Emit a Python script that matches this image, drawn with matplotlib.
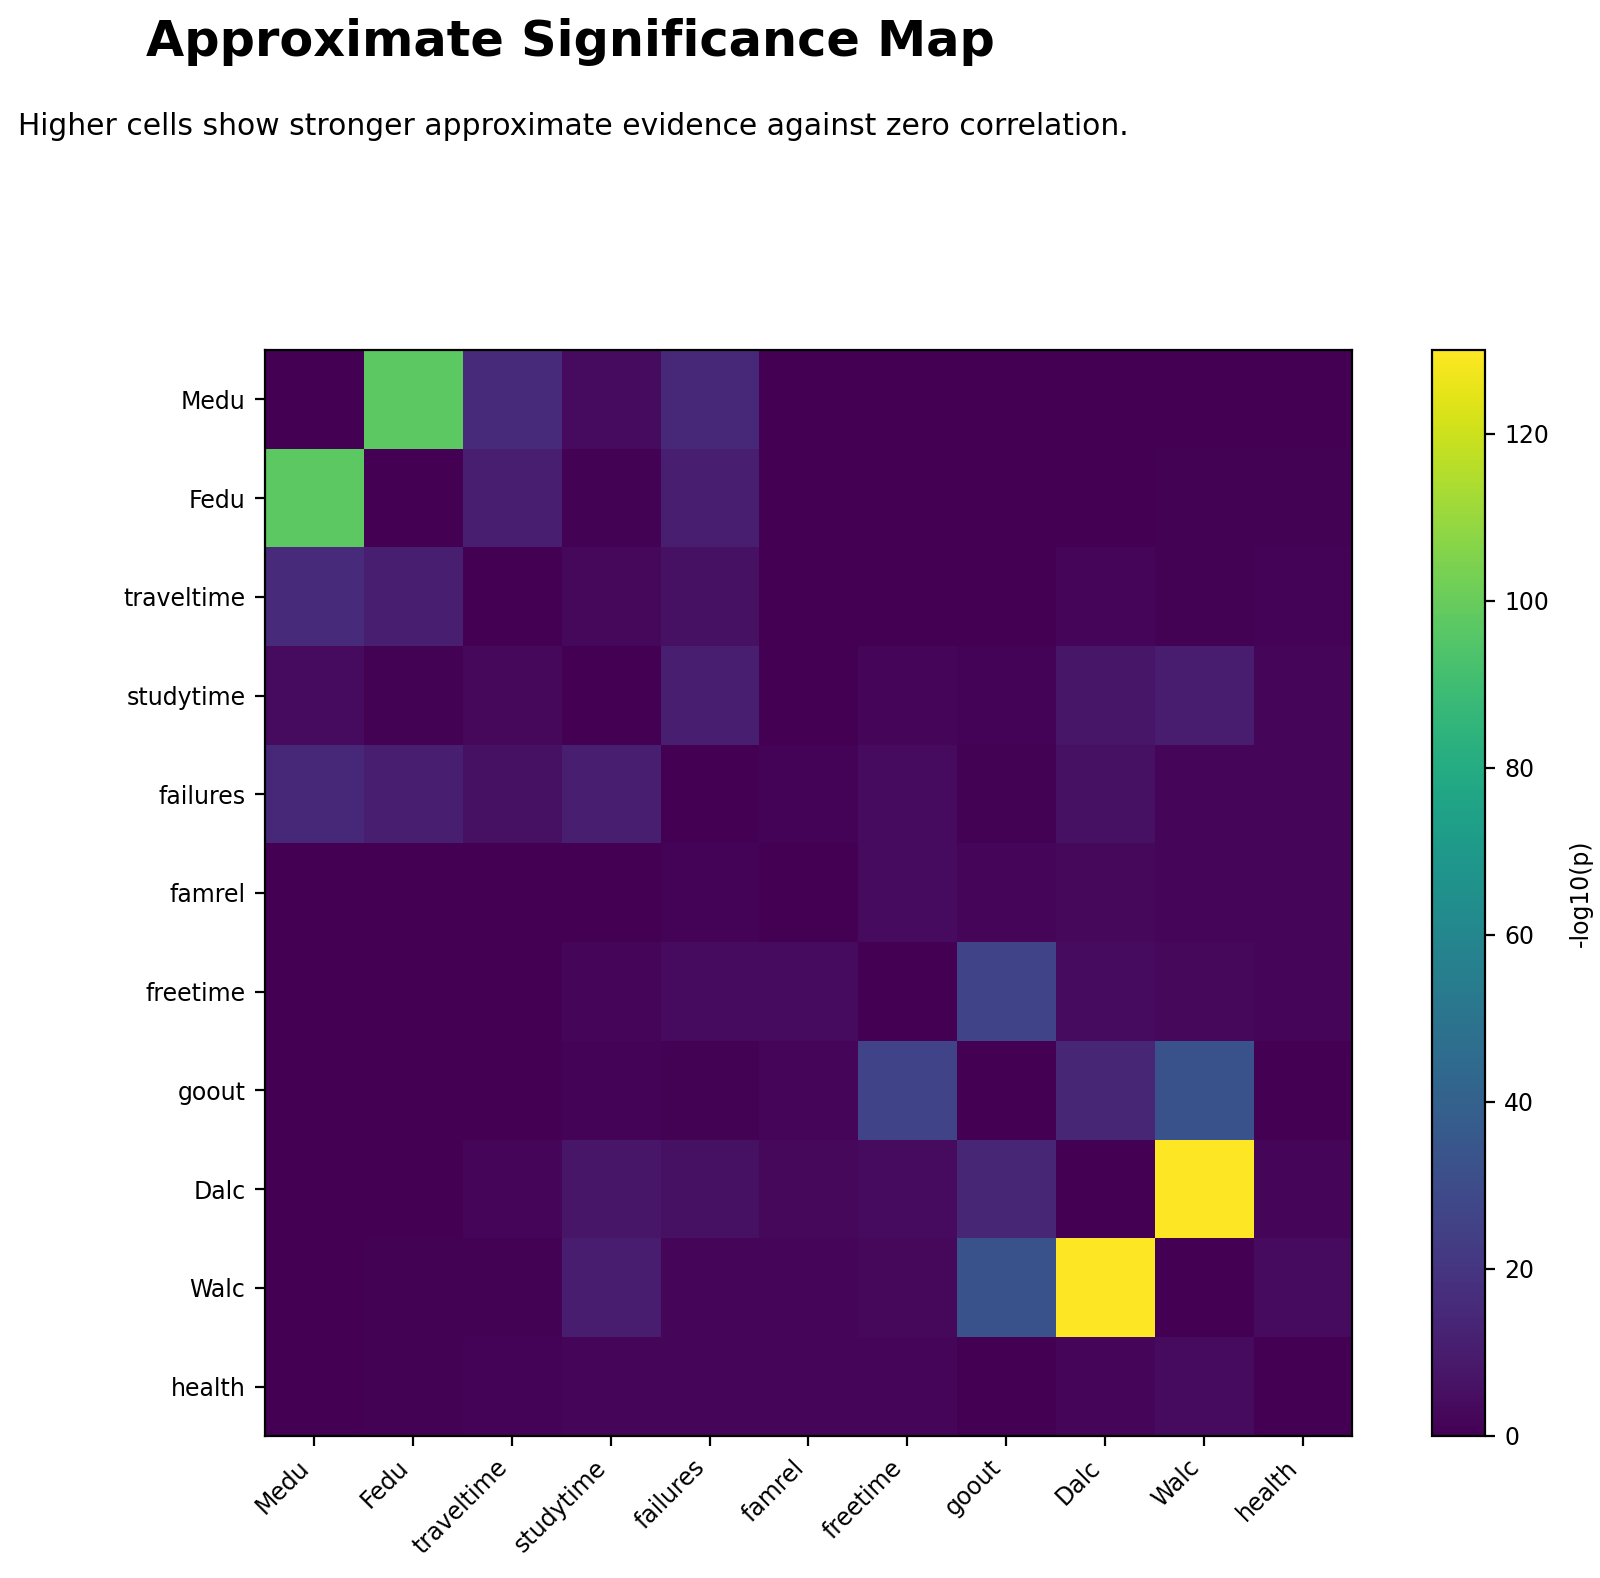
"""
Approximate significance map: -log10(p) of pairwise correlations
between the student survey variables.
"""

import numpy as np
import matplotlib
matplotlib.use("Agg")
import matplotlib.pyplot as plt

OUTPUT_PATH = "out.png"

variables = ["Medu", "Fedu", "traveltime", "studytime", "failures", "famrel",
             "freetime", "goout", "Dalc", "Walc", "health"]

# -log10(p) per row (symmetric, zero diagonal)
row_medu = [0, 97, 16, 4, 15, 0, 0, 0, 0, 0.3, 0.3]
row_fedu = [97, 0, 11, 1, 11, 0, 0, 0, 0.3, 1, 1]
row_traveltime = [16, 11, 0, 3, 6, 0, 0.3, 0.5, 2, 1, 1.5]
row_studytime = [4, 1, 3, 0, 11, 0.5, 2, 1.5, 8, 10, 2]
row_failures = [15, 11, 6, 11, 0, 1.5, 4, 1, 6, 2, 2]
row_famrel = [0, 0, 0, 0.5, 1.5, 0, 4, 2, 3, 2, 2]
row_freetime = [0, 0, 0.3, 2, 4, 4, 0, 26, 4, 3, 2.5]
row_goout = [0, 0, 0.5, 1.5, 1, 2, 26, 0, 14, 33, 0.3]
row_dalc = [0, 0.3, 2, 8, 6, 3, 4, 14, 0, 130, 2]
row_walc = [0.3, 1, 1, 10, 2, 2, 3, 33, 130, 0, 4]
row_health = [0.3, 1, 1.5, 2, 2, 2, 2.5, 0.3, 2, 4, 0]

cbar_ticks = [0, 20, 40, 60, 80, 100, 120]


def main():
    sig = np.array([row_medu, row_fedu, row_traveltime, row_studytime,
                    row_failures, row_famrel, row_freetime, row_goout,
                    row_dalc, row_walc, row_health])

    fig = plt.figure(figsize=(8, 7.89), dpi=200)
    ax = fig.add_axes([0.1656, 0.09, 0.6794, 0.6882])
    cax = fig.add_axes([0.895, 0.09, 0.033, 0.6882])

    im = ax.imshow(sig, cmap="viridis", vmin=0, vmax=sig.max(),
                   interpolation="nearest", aspect="auto")
    ax.set_xticks(range(len(variables)))
    ax.set_yticks(range(len(variables)))
    ax.set_xticklabels(variables, rotation=45, ha="right", fontsize=8.5)
    ax.set_yticklabels(variables, fontsize=8.5)

    cb = fig.colorbar(im, cax=cax)
    cb.set_ticks(cbar_ticks)
    cb.ax.tick_params(labelsize=8.5)
    cb.set_label("-log10(p)", fontsize=8.5, labelpad=7)

    fig.text(0.0913, 0.9645, "Approximate Significance Map",
             fontsize=17.8, fontweight="bold", ha="left", va="baseline")
    fig.text(0.0113, 0.9145,
             "Higher cells show stronger approximate evidence against zero correlation.",
             fontsize=10.7, ha="left", va="baseline")

    fig.savefig(OUTPUT_PATH, dpi=200)
    print(f"saved {OUTPUT_PATH}")


if __name__ == "__main__":
    main()
